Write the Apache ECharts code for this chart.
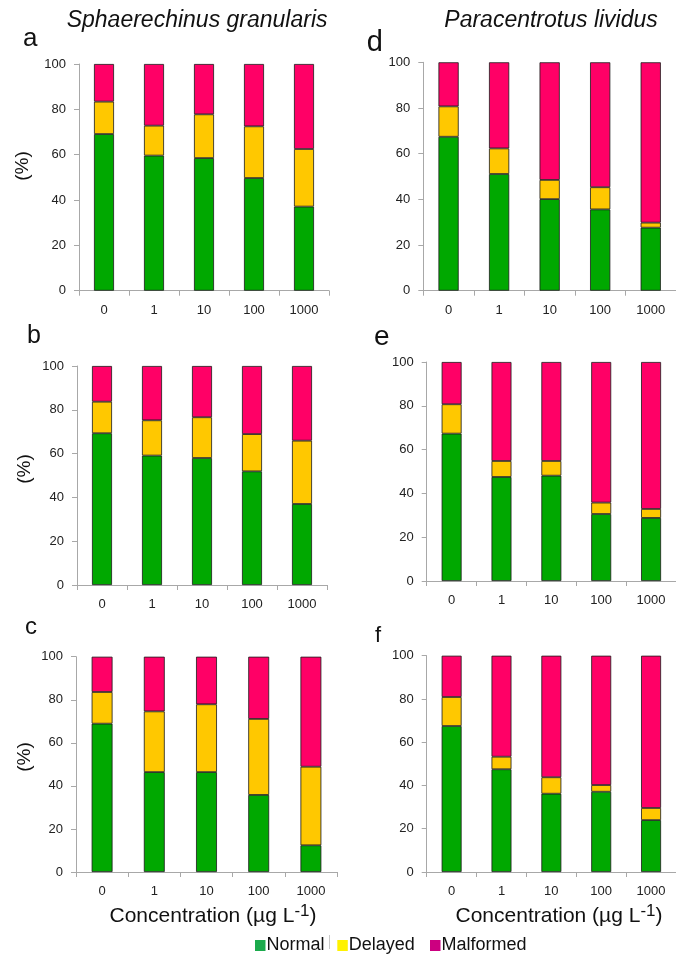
<!DOCTYPE html>
<html>
<head>
<meta charset="utf-8">
<script src="https://cdn.jsdelivr.net/npm/echarts@6/dist/echarts.min.js"></script>
<style>
html,body{margin:0;padding:0;background:#fff;}
#chart{width:676px;height:962px;}
</style>
</head>
<body>
<div id="chart"></div>
<script>
// ---- data ----
var categories = ['0', '1', '10', '100', '1000'];
var yTicks = [0, 20, 40, 60, 80, 100];
var seriesNames = ['Normal', 'Delayed', 'Malformed'];

// Sphaerechinus granularis
var normalA = [69.1, 59.6, 58.5, 49.7, 37.1];
var delayedA = [14.3, 13.2, 19.3, 22.8, 25.4];
var malformedA = [16.6, 27.2, 22.2, 27.5, 37.5];

var normalB = [69.3, 59.1, 58.0, 51.9, 37.0];
var delayedB = [14.4, 16.1, 18.6, 17.0, 28.9];
var malformedB = [16.3, 24.8, 23.4, 31.1, 34.1];

var normalC = [68.9, 46.4, 46.4, 35.8, 12.4];
var delayedC = [14.7, 28.2, 31.5, 35.3, 36.5];
var malformedC = [16.4, 25.4, 22.1, 28.9, 51.1];

// Paracentrotus lividus
var normalD = [67.4, 51.1, 40.1, 35.6, 27.6];
var delayedD = [13.3, 11.2, 8.4, 9.7, 2.2];
var malformedD = [19.3, 37.7, 51.5, 54.7, 70.2];

var normalE = [67.3, 47.5, 48.1, 30.6, 28.8];
var delayedE = [13.4, 7.3, 6.7, 5.2, 4.1];
var malformedE = [19.3, 45.2, 45.2, 64.2, 67.1];

var normalF = [67.5, 47.5, 36.2, 37.1, 24.0];
var delayedF = [13.4, 5.8, 7.6, 3.1, 5.6];
var malformedF = [19.1, 46.7, 56.2, 59.8, 70.4];

var panels = [
  {letter: 'a', n: normalA, d: delayedA, m: malformedA},
  {letter: 'b', n: normalB, d: delayedB, m: malformedB},
  {letter: 'c', n: normalC, d: delayedC, m: malformedC},
  {letter: 'd', n: normalD, d: delayedD, m: malformedD},
  {letter: 'e', n: normalE, d: delayedE, m: malformedE},
  {letter: 'f', n: normalF, d: delayedF, m: malformedF}
];

// ---- layout / style ----
var FONT = 'Liberation Sans, Arial, sans-serif';
var barColors = ['#00A800', '#FFC800', '#FF0066'];
var legendColors = ['#1BAA4C', '#FFF200', '#CC0080'];
var grids = [
  {left: 79, top: 64, width: 250, height: 226.7},
  {left: 77, top: 366, width: 250, height: 219},
  {left: 76, top: 656.7, width: 261, height: 215.3},
  {left: 423.3, top: 62.3, width: 259.5, height: 228.4},
  {left: 426.7, top: 362, width: 258, height: 219},
  {left: 426.7, top: 655.7, width: 258, height: 216.3}
];

var axisGray = '#A8A8A8';
var option = {
  animation: false,
  backgroundColor: '#ffffff',
  grid: grids,
  xAxis: [], yAxis: [], series: [],
  legend: [],
  graphic: []
};

panels.forEach(function (p, i) {
  option.xAxis.push({
    type: 'category', gridIndex: i, data: categories,
    axisLine: {lineStyle: {color: axisGray, width: 1}},
    axisTick: {show: true, length: 5, lineStyle: {color: axisGray}},
    axisLabel: {color: '#222', fontFamily: FONT, fontSize: 13, margin: 13}
  });
  option.yAxis.push({
    type: 'value', gridIndex: i, min: yTicks[0], max: yTicks[yTicks.length - 1], interval: 20,
    splitLine: {show: false},
    axisLine: {show: true, lineStyle: {color: axisGray, width: 1}},
    axisTick: {show: true, length: 5, lineStyle: {color: axisGray}},
    axisLabel: {color: '#222', fontFamily: FONT, fontSize: 13, margin: 13}
  });
  var vals = [p.n, p.d, p.m];
  for (var k = 0; k < 3; k++) {
    option.series.push({
      type: 'bar', name: seriesNames[k], xAxisIndex: i, yAxisIndex: i,
      stack: 'panel' + i, data: vals[k], barWidth: '40%',
      itemStyle: {color: barColors[k], borderColor: '#1a1a1a', borderWidth: 0.8}
    });
  }
});

// legends (one per item for exact placement)
var legendPos = [255, 337.3, 430];
seriesNames.forEach(function (nm, k) {
  option.legend.push({
    left: legendPos[k], top: 936.5, padding: 0,
    itemWidth: 10.5, itemHeight: 11, icon: 'rect',
    selectedMode: false,
    data: [{name: nm, itemStyle: {color: legendColors[k], borderWidth: 0}}],
    textStyle: {fontFamily: FONT, fontSize: 18, color: '#111', padding: [0, 0, 0, -4]}
  });
});

// species titles
option.graphic.push({type: 'text', left: 66.7, top: 9, style: {text: 'Sphaerechinus granularis', font: 'italic 23px ' + FONT, fill: '#111'}});
option.graphic.push({type: 'text', left: 444.3, top: 9, style: {text: 'Paracentrotus lividus', font: 'italic 23px ' + FONT, fill: '#111'}});

// panel letters
var letterPos = [
  {x: 23, y: 39, s: 26}, {x: 27, y: 336, s: 25}, {x: 25, y: 627, s: 24},
  {x: 366.7, y: 43, s: 29}, {x: 374, y: 337, s: 28}, {x: 375, y: 636, s: 22}
];
panels.forEach(function (p, i) {
  var L = letterPos[i];
  option.graphic.push({type: 'text', x: L.x, y: L.y,
    style: {text: p.letter, font: L.s + 'px ' + FONT, fill: '#111', textAlign: 'left', textVerticalAlign: 'middle'}});
});

// (%) y-axis labels
[[23, 166], [25, 469], [25, 757]].forEach(function (c) {
  option.graphic.push({type: 'text', x: c[0], y: c[1], rotation: Math.PI / 2,
    style: {text: '(%)', font: '19px ' + FONT, fill: '#111', textAlign: 'center', textVerticalAlign: 'middle'}});
});

// concentration labels
[[213, 915], [559, 915]].forEach(function (c) {
  option.graphic.push({type: 'text', x: c[0], y: c[1],
    style: {
      text: '{a|Concentration (µg L}{s|-1}{a|)}',
      textAlign: 'center', textVerticalAlign: 'middle',
      rich: {
        a: {fontFamily: FONT, fontSize: 21, fill: '#111', color: '#111', verticalAlign: 'bottom', lineHeight: 24},
        s: {fontFamily: FONT, fontSize: 17, fill: '#111', color: '#111', verticalAlign: 'top', lineHeight: 24, padding: [0, 0, 6, 0]}
      }
    }});
});

// separator after "Normal"
option.graphic.push({type: 'line', shape: {x1: 329.5, y1: 935, x2: 329.5, y2: 949}, style: {stroke: '#c8c8c8', lineWidth: 1}});

var chart = echarts.init(document.getElementById('chart'), null, {renderer: 'canvas'});
chart.setOption(option);
</script>
</body>
</html>
